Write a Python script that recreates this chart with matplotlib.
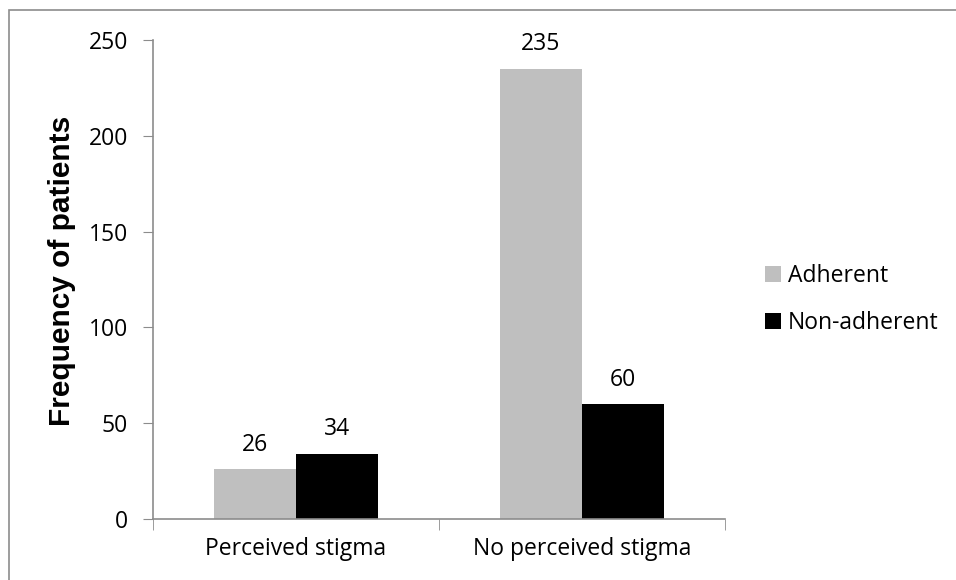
import numpy as np
import matplotlib
matplotlib.use('Agg')
from matplotlib import pyplot as plt
from matplotlib.patches import Rectangle

plt.rcParams['font.family'] = ['Open Sans', 'DejaVu Sans']

categories = ['Perceived stigma', 'No perceived stigma']
adherent = [26, 235]
non_adherent = [34, 60]
series_names = ['Adherent', 'Non-adherent']
yticks = [0, 50, 100, 150, 200, 250]

#---- figure and axes
fig = plt.figure(figsize=(9.56, 5.80), dpi=100)
ax = fig.add_axes([0.160, 0.105, 0.598, 0.826])

# outer chart border (only its top and left edges fall inside the image)
fig.patches.append(Rectangle((9/956, -0.1), 1.2, 1.1 - 10/580,
                             transform=fig.transFigure, fill=False,
                             edgecolor='#8c8c8c', linewidth=1.2))

x = np.arange(len(categories))
w = 0.287
b1 = ax.bar(x - w/2, adherent, w, color='#bfbfbf', label=series_names[0])
b2 = ax.bar(x + w/2, non_adherent, w, color='black', label=series_names[1])

for bars in (b1, b2):
    for r in bars:
        ax.annotate('%d' % r.get_height(),
                    (r.get_x() + r.get_width()/2, r.get_height()),
                    xytext=(0, 9), textcoords='offset points',
                    ha='center', va='bottom', fontsize=16.5)

ax.set_xlim(-0.5, 1.5)
ax.set_ylim(0, 250)
ax.set_yticks(yticks)
ax.set_xticks(x)
ax.set_xticklabels(categories)
ax.set_xticks([-0.5, 0.5, 1.5], minor=True)
ax.tick_params(axis='x', which='major', length=0, pad=13, labelsize=16.5)
ax.tick_params(axis='x', which='minor', length=8, color='#8c8c8c', direction='out')
ax.tick_params(axis='y', length=7, color='#8c8c8c', labelsize=16.5, pad=11)

for s in ['top', 'right']:
    ax.spines[s].set_visible(False)
for s in ['left', 'bottom']:
    ax.spines[s].set_color('#8c8c8c')
    ax.spines[s].set_linewidth(1.2)

ax.set_ylabel('Frequency of patients', fontsize=21.5, fontweight='bold',
              family=['Liberation Sans', 'DejaVu Sans'], labelpad=8)
ax.yaxis.set_label_coords(-0.135, 0.518)

ax.legend(loc='center left', bbox_to_anchor=(1.0, 0.459), frameon=False,
          fontsize=16.5, handlelength=0.7, handleheight=0.7, handletextpad=0.3,
          labelspacing=1.0, borderaxespad=1.35)

plt.savefig('out.png', dpi=100)
